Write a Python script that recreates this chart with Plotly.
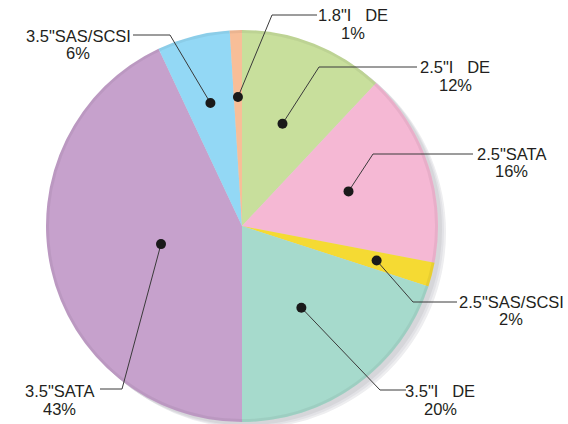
import math
import plotly.graph_objects as go

# ---- data ----
categories = ['2.5"I\u00a0\u00a0\u00a0DE', '2.5"SATA', '2.5"SAS/SCSI', '3.5"I\u00a0\u00a0\u00a0DE',
              '3.5"SATA', '3.5"SAS/SCSI', '1.8"I\u00a0\u00a0\u00a0DE']
values = [12, 16, 2, 20, 43, 6, 1]
colors = ['#c8df9c', '#f5b8d4', '#f5da33', '#a6dacc', '#c6a1cc', '#93d8f5', '#f8be98']

# ---- layout geometry (pixels) ----
W, H = 568, 424
CX, CY, R = 242, 226, 196

# per-label style: dot radius (px), elbow point, end of horizontal, text centre x, line ys
dot_r = [110, 112, 139, 101, 83, 127, 129]
elbow = [(319, 67), (373, 154), (413, 302), (380, 390), (122, 389), (170, 35), (272, 15)]
hend = [417, 473, 457, 406, 100, 133, 317]
text_x = [455, 511, 511, 440, 59, 78, 353]
text_y = [(67, 85), (154, 171), (302, 319), (391, 409), (391, 409), (36, 53), (15, 33)]


def px(x):
    return x / W


def py(y):
    return 1 - y / H


fig = go.Figure()
fig.add_trace(go.Pie(
    labels=categories, values=values, sort=False, direction='clockwise',
    rotation=0, marker=dict(colors=colors, line=dict(width=0)),
    textinfo='none', hoverinfo='label+percent', showlegend=False,
    domain=dict(x=[px(CX - R), px(CX + R)], y=[py(CY + R), py(CY - R)]),
))

shapes = []
# soft shadow behind the pie
for off, col in [(8, '#eeeef0'), (6, '#e2e2e6'), (4, '#d6d6da')]:
    shapes.append(dict(type='circle', xref='paper', yref='paper', layer='below',
                       x0=px(CX - R + off), x1=px(CX + R + off),
                       y0=py(CY + R + off * 0.8), y1=py(CY - R + off * 0.8),
                       fillcolor=col, line=dict(width=0)))
# subtle rim
shapes.append(dict(type='circle', xref='paper', yref='paper', layer='above',
                   x0=px(CX - R + 1.5), x1=px(CX + R - 1.5),
                   y0=py(CY + R - 1.5), y1=py(CY - R + 1.5),
                   line=dict(width=3, color='rgba(0,0,0,0.05)')))

total = sum(values)
cum = 0
annotations = []
for i, v in enumerate(values):
    mid = (cum + v / 2) / total * 2 * math.pi
    cum += v
    dx = CX + dot_r[i] * math.sin(mid)
    dy = CY - dot_r[i] * math.cos(mid)
    ex, ey = elbow[i]
    path = f'M {px(dx)} {py(dy)} L {px(ex)} {py(ey)} L {px(hend[i])} {py(ey)}'
    shapes.append(dict(type='path', xref='paper', yref='paper', layer='above',
                       path=path, line=dict(color='#3a3a3a', width=1)))
    shapes.append(dict(type='circle', xref='paper', yref='paper', layer='above',
                       x0=px(dx - 5), x1=px(dx + 5), y0=py(dy + 5), y1=py(dy - 5),
                       fillcolor='#1a1a1a', line=dict(width=0)))
    pct = round(v / total * 100)
    for txt, yy in [(categories[i], text_y[i][0]), (f'{pct}%', text_y[i][1])]:
        annotations.append(dict(x=px(text_x[i]), y=py(yy), xref='paper', yref='paper',
                                text=txt, showarrow=False, xanchor='center', yanchor='middle',
                                font=dict(family='Liberation Sans, Arial, sans-serif',
                                          size=16.5, color='#231f20')))

fig.update_layout(width=W, height=H, margin=dict(l=0, r=0, t=0, b=0),
                  paper_bgcolor='white', plot_bgcolor='white',
                  shapes=shapes, annotations=annotations)
fig.write_html('out.html', config={'displayModeBar': False},
               post_script="document.body.style.margin='0';document.body.style.overflow='hidden';")
